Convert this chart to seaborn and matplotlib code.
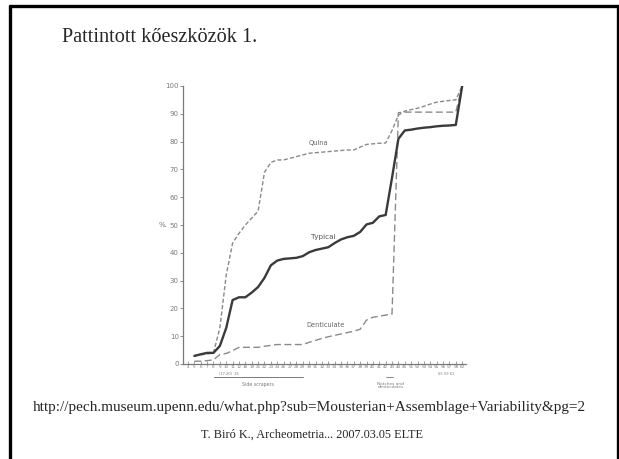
import numpy as np
import pandas as pd
import seaborn as sns
import matplotlib.pyplot as plt
from matplotlib.lines import Line2D

# tick labels along the x axis (Bordes type numbers)
types = ['4', '5', '6', '7', '8', '9', '10', '11', '12', '18', '19', '21', '22',
         '23', '24', '26', '27', '28', '29', '30', '31', '32', '33', '34', '35',
         '36', '37', '38', '39', '40', '41', '42', '43', '44', '45', '51', '52',
         '53', '54', '55', '56', '57', '58', '62']

# cumulative percentages, one value per type from the 2nd tick onward
quina = [3.0, 3.3, 3.6, 4.0, 13, 32, 43.5, 47, 50, 52.5, 55, 69, 72.5, 73.4,
         73.4, 74, 74.6, 75.2, 75.8, 76, 76.2, 76.4, 76.6, 76.8, 77, 77, 78,
         79, 79.2, 79.4, 79.5, 84, 89.5, 91, 91.5, 92, 92.7, 93.5, 94.2, 94.5,
         94.8, 95, 100]
typical = [2.9, 3.5, 4.0, 4.0, 6.5, 13, 23, 24, 24, 25.7, 27.7, 31, 35.5, 37.2,
           37.8, 38, 38.2, 38.8, 40.2, 41, 41.5, 42, 43.5, 44.8, 45.6, 46.1,
           47.5, 50.2, 50.8, 53.1, 53.6, 67, 81, 84, 84.3, 84.7, 85, 85.2, 85.5,
           85.7, 85.8, 86, 100]
denticulate = [1.0, 1.0, 1.2, 1.5, 3.4, 3.8, 4.8, 6, 6, 6, 6, 6.4, 6.7, 7, 7, 7,
               7, 7, 7.8, 8.5, 9.2, 9.8, 10.3, 10.8, 11.3, 11.8, 12.5, 15.8,
               16.8, 17.2, 17.6, 18, 90.4, 90.6, 90.6, 90.6, 90.6, 90.6, 90.6,
               90.6, 90.6, 90.6, 100]

pos = np.arange(1, len(types))
df = pd.DataFrame({'pos': pos, 'Quina': quina, 'Typical': typical,
                   'Denticulate': denticulate})

W, H = 619, 459
fig = plt.figure(figsize=(W / 100, H / 100), dpi=100)
ax = fig.add_axes([183 / W, 1 - 364 / H, 283 / W, 278 / H])
sns.set_style('white')

grey = '#7a7a7a'
sns.lineplot(data=df, x='pos', y='Quina', ax=ax, color='#8a8a8a', lw=1.0,
             linestyle=(0, (3, 1.6)))
sns.lineplot(data=df, x='pos', y='Denticulate', ax=ax, color='#8a8a8a', lw=1.0,
             linestyle=(0, (5, 2.5)))
sns.lineplot(data=df, x='pos', y='Typical', ax=ax, color='#3a3a3a', lw=1.7)

ax.set_xlim(-0.78, 43.6)
ax.set_ylim(0, 100)
ax.set_xlabel('')
ax.set_ylabel('')
ax.set_yticks(range(0, 101, 10))
ax.set_xticks(range(len(types)))
ax.set_xticklabels(types)
ax.tick_params(axis='y', labelsize=5, colors=grey, length=2, width=0.6, pad=1)
ax.tick_params(axis='x', labelsize=3, colors=grey, length=2.5, width=0.5,
               direction='in', pad=1)
for s in ['top', 'right']:
    ax.spines[s].set_visible(False)
for s in ['left', 'bottom']:
    ax.spines[s].set_color(grey)
    ax.spines[s].set_linewidth(0.9)

ax.text(-3.2, 50, '%.', fontsize=5, color=grey, ha='right', va='center')
ax.text(20.5, 79.5, 'Quina', fontsize=4.8, color='#666666', ha='center', va='center')
ax.text(21.2, 45.7, 'Typical', fontsize=5.2, color='#555555', ha='center', va='center')
ax.text(21.5, 14, 'Denticulate', fontsize=4.8, color='#666666', ha='center', va='center')

# sub labels and brackets under the axis
ax.text(6.5, -2.8, '(17,20)  25', fontsize=2.6, color=grey, ha='center', va='top')
ax.text(40.5, -2.8, '55 59 61', fontsize=2.6, color=grey, ha='center', va='top')
ax.plot([4.1, 18], [-4.7, -4.7], color=grey, lw=0.7, clip_on=False)
ax.text(11, -6.3, 'Side scrapers', fontsize=3.4, color=grey, ha='center', va='top')
ax.plot([31, 32.2], [-4.5, -4.5], color=grey, lw=0.6, clip_on=False)
ax.text(31.8, -6.3, 'Notches and\ndenticulates', fontsize=3.1, color=grey,
        ha='center', va='top', linespacing=0.9)

# slide frame and texts
for (x0, y0, x1, y1) in [(9.5, 5.5, 617.5, 5.5), (9.5, 5.5, 9.5, 459),
                         (617.5, 5.5, 617.5, 459)]:
    fig.add_artist(Line2D([x0 / W, x1 / W], [1 - y0 / H, 1 - y1 / H],
                          transform=fig.transFigure, color='black', lw=2.4))

serif = ['Liberation Serif', 'DejaVu Serif']
fig.text(62 / W, 1 - 37 / H, 'Pattintott kőeszközök 1.', family=serif,
         fontsize=14.6, ha='left', va='center')
fig.text(309 / W, 1 - 408 / H,
         'http://pech.museum.upenn.edu/what.php?sub=Mousterian+Assemblage+Variability&pg=2',
         family=serif, fontsize=11, ha='center', va='center')
fig.text(312 / W, 1 - 435 / H, 'T. Biró K., Archeometria... 2007.03.05 ELTE',
         family=serif, fontsize=8.8, ha='center', va='center')

fig.savefig('out.png', dpi=100)
